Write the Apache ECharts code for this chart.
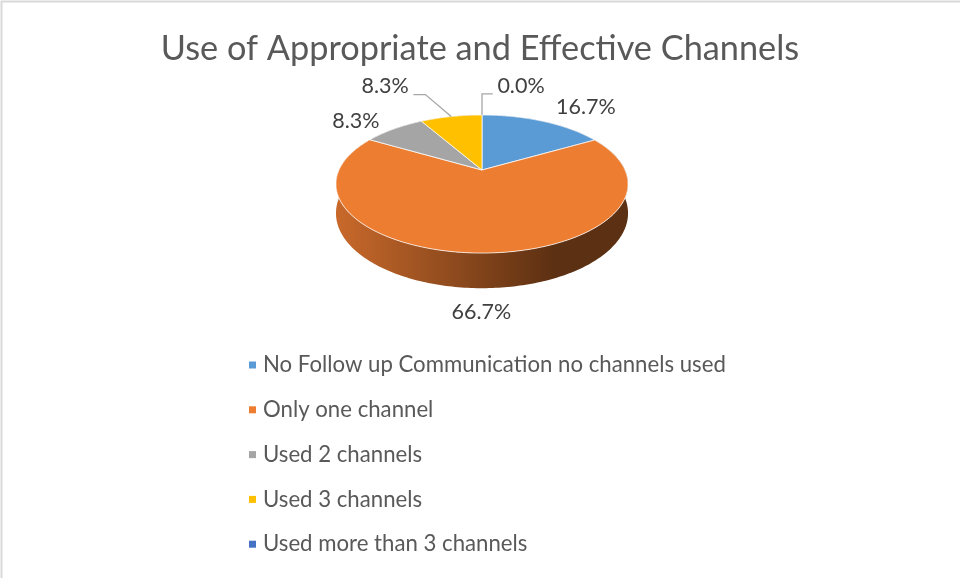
<!DOCTYPE html>
<html>
<head>
<meta charset="utf-8">
<script src="https://cdn.jsdelivr.net/npm/echarts@6/dist/echarts.min.js"></script>
<style>
  html, body { margin: 0; padding: 0; background: #fff; }
  #chart { width: 960px; height: 578px; }
</style>
</head>
<body>
<div id="chart"></div>
<script>
const categories = [
  'No Follow up Communication no channels used',
  'Only one channel',
  'Used 2 channels',
  'Used 3 channels',
  'Used more than 3 channels'
]
const shares = [16.7, 66.7, 8.3, 8.3, 0.0]
const colors = ['#5B9BD5', '#ED7D31', '#A5A5A5', '#FFC000', '#4472C4']
// side wall shading (light left -> dark right)
const sideColors = [
  ['#5a8ec4', '#2e5583'],
  ['#c9692b', '#5c3012'],
  ['#9a9a9a', '#555555'],
  ['#e0a800', '#7f6000'],
  ['#3f67b3', '#22386b']
]
// label offset from the rim point (px) and leader line flag
const labelOffsets = [[43, -14], [0, 59], [-38, -8], [-66, -30], [39, -29]]
const leaders = [false, false, false, true, true]

const chart = echarts.init(document.getElementById('chart'))

// pseudo 3D projection of the pie disk
const CX = 482, CY = 170, R = 143, S = 66.2, K = 0.203, DEPTH = 28
const FONT = 'Lato, "Open Sans", sans-serif'
const LABEL_SIZE = 21.5
const total = shares.reduce((a, b) => a + b, 0)

const proj = (deg, drop) => {
  const r = deg * Math.PI / 180
  const u = Math.sin(r)
  const v = -Math.cos(r)
  const w = 1 - K * v
  return [CX + R * u / w, CY + S * v / w + (drop ? DEPTH / w : 0)]
}
const sliceAngles = (idx) => {
  let start = 0
  for (let i = 0; i < idx; i++) start += shares[i]
  return [start / total * 360, (start + shares[idx]) / total * 360]
}
const arc = (a, b, drop) => {
  const pts = []
  const n = Math.max(1, Math.ceil(b - a))
  for (let i = 0; i <= n; i++) pts.push(proj(a + (b - a) * i / n, drop))
  return pts
}

// 侧面
const renderSide = (params, api) => {
  const idx = params.dataIndex
  const [a, b] = sliceAngles(idx)
  if (b - a <= 0) return
  const pts = arc(a, b, false).concat(arc(a, b, true).reverse())
  return {
    type: 'polygon',
    shape: { points: pts },
    style: {
      fill: new echarts.graphic.LinearGradient(0, 0, 1, 0, [
        { offset: 0, color: sideColors[idx][0] },
        { offset: 0.75, color: sideColors[idx][1] },
        { offset: 1, color: sideColors[idx][1] }
      ])
    }
  }
}

// 顶面 + 标签
const renderTop = (params, api) => {
  const idx = params.dataIndex
  const [a, b] = sliceAngles(idx)
  const children = []
  if (b - a > 0) {
    children.push({
      type: 'polygon',
      shape: { points: [[CX, CY]].concat(arc(a, b, false)) },
      style: { fill: colors[idx], stroke: 'rgba(255,255,255,0.75)', lineWidth: 1 }
    })
  }
  const anchor = proj((a + b) / 2, false)
  const text = api.value(0).toFixed(1) + '%'
  const lx = anchor[0] + labelOffsets[idx][0]
  const ly = anchor[1] + labelOffsets[idx][1]
  children.push({
    type: 'text',
    z2: 20,
    style: {
      text: text, x: lx, y: ly, fill: '#404040',
      font: LABEL_SIZE + 'px ' + FONT, align: 'center', verticalAlign: 'middle'
    }
  })
  if (leaders[idx]) {
    const halfW = text.length * LABEL_SIZE * 0.27
    const side = anchor[0] < lx ? -1 : 1
    const endX = lx + side * (halfW + 5)
    let elbowX = endX + side * 12
    if (side < 0 && elbowX < anchor[0]) elbowX = anchor[0]
    if (side > 0 && elbowX > anchor[0]) elbowX = anchor[0]
    const y = ly + 8
    children.push({
      type: 'polyline',
      z2: 20,
      shape: { points: [anchor, [elbowX, y], [endX, y]] },
      style: { stroke: '#A6A6A6', lineWidth: 1.3, fill: null }
    })
  }
  return { type: 'group', children: children }
}

const option = {
  backgroundColor: '#fff',
  title: {
    text: 'Use of Appropriate and Effective Channels',
    left: 'center',
    top: 27,
    textStyle: { color: '#595959', fontSize: 34.3, fontWeight: 'normal', fontFamily: FONT }
  },
  legend: {
    orient: 'vertical',
    left: 244,
    top: 349,
    itemGap: 22.8,
    itemWidth: 7,
    itemHeight: 7,
    icon: 'rect',
    selectedMode: false,
    data: categories,
    textStyle: { color: '#595959', fontSize: 22.2, fontFamily: FONT, padding: [0, 0, 0, 2] }
  },
  graphic: [{
    type: 'rect',
    shape: { x: 1.5, y: 1.5, width: 1200, height: 1200 },
    style: { fill: null, stroke: '#D9D9D9', lineWidth: 2 },
    silent: true
  }],
  series: [
    {
      // legend source only
      type: 'pie',
      radius: [0, 0],
      silent: true,
      label: { show: false },
      labelLine: { show: false },
      data: categories.map((name, i) => ({ name: name, value: shares[i], itemStyle: { color: colors[i] } }))
    },
    {
      type: 'custom',
      coordinateSystem: 'none',
      z: 2,
      silent: true,
      renderItem: renderSide,
      data: shares
    },
    {
      type: 'custom',
      coordinateSystem: 'none',
      z: 3,
      silent: true,
      renderItem: renderTop,
      data: shares
    }
  ]
}
chart.setOption(option)
</script>
</body>
</html>
